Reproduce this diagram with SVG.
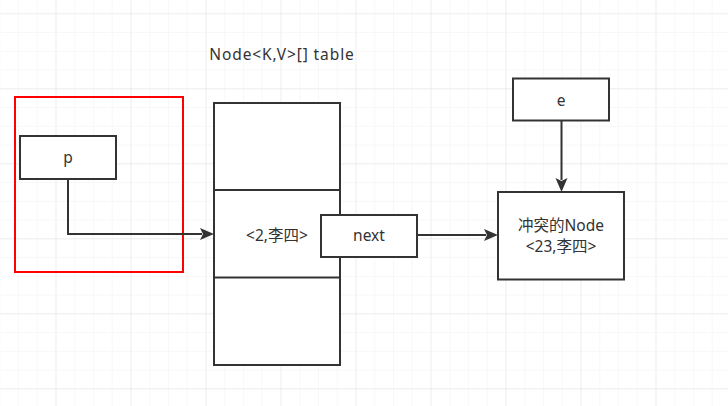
<svg xmlns="http://www.w3.org/2000/svg" width="728" height="406" viewBox="0 0 728 406">
<defs>
<pattern id="minor" x="55.5" y="13.3" width="18.75" height="18.75" patternUnits="userSpaceOnUse">
<path d="M0 0H18.75M0 0V18.75" fill="none" stroke="#f2f2f2" stroke-width="1"/>
</pattern>
<pattern id="major" x="55.5" y="13.3" width="75" height="75" patternUnits="userSpaceOnUse">
<path d="M0 0H75M0 0V75" fill="none" stroke="#e4e4e4" stroke-width="1"/>
</pattern>
</defs>
<style>
.box{fill:#fff;stroke:#333;stroke-width:2}
.t{font-family:"Noto Sans","Noto Sans CJK SC",sans-serif;font-size:15.5px;fill:#333;text-anchor:middle;dominant-baseline:central}
.c{fill:none;stroke:#333;stroke-width:2}
.ah{fill:#333}
</style>
<rect width="728" height="406" fill="#fff"/>
<rect width="728" height="406" fill="url(#minor)"/>
<rect width="728" height="406" fill="url(#major)"/>
<text class="t" x="282" y="54" letter-spacing="0.9">Node&lt;K,V&gt;[] table</text>
<g id="red-frame"><rect x="15" y="97" width="168" height="175" fill="none" stroke="#f00" stroke-width="2"/></g>
<g id="table">
<rect class="box" x="214" y="103" width="126" height="262"/>
<line x1="214" y1="190" x2="340" y2="190" stroke="#333" stroke-width="2"/>
<line x1="214" y1="277.5" x2="340" y2="277.5" stroke="#333" stroke-width="2"/>
<text class="t" x="277" y="235">&lt;2,李四&gt;</text>
</g>
<g id="p"><rect class="box" x="20" y="136" width="96" height="43"/><text class="t" x="68" y="157">p</text></g>
<g id="next"><rect class="box" x="321" y="215" width="96" height="42"/><text class="t" x="369" y="235">next</text></g>
<g id="e"><rect class="box" x="513" y="78.5" width="96" height="42"/><text class="t" x="561" y="100">e</text></g>
<g id="conflict"><rect class="box" x="498" y="192" width="126" height="87.5"/>
<text class="t" x="561" y="225">冲突的Node</text><text class="t" x="561" y="246">&lt;23,李四&gt;</text></g>
<g id="connectors">
<path class="c" d="M68 179V234H202"/><path class="ah" d="M200 228L214 234L200 240L203 234Z"/>
<path class="c" d="M417 235H486"/><path class="ah" d="M484 229L498 235L484 241L487 235Z"/>
<path class="c" d="M561.5 121V180"/><path class="ah" d="M555.5 178L561.5 192L567.5 178L561.5 181Z"/>
</g>
</svg>
